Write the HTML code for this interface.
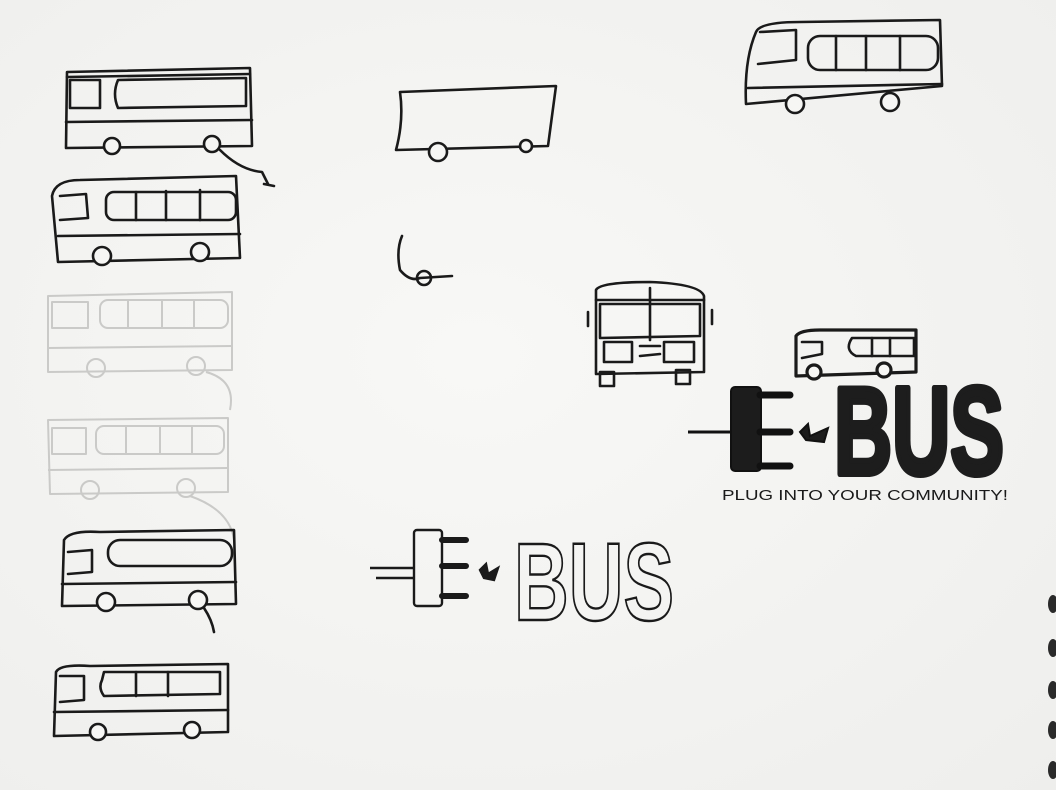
<!DOCTYPE html>
<html><head><style>
html,body{margin:0;padding:0;width:1056px;height:790px;overflow:hidden;background:#f5f5f3}
svg{display:block}
</style></head><body>
<svg width="1056" height="790" viewBox="0 0 1056 790" xmlns="http://www.w3.org/2000/svg">
<defs>
<radialGradient id="bg" cx="0.45" cy="0.45" r="0.8">
<stop offset="0" stop-color="#f8f8f6"/><stop offset="1" stop-color="#eeeeec"/>
</radialGradient>
</defs>
<rect width="1056" height="790" fill="url(#bg)"/>
<g fill="none" stroke="#1a1a1a" stroke-width="2.6" stroke-linejoin="round" stroke-linecap="round">
<path d="M67 72 L250 68 L252 146 L66 148 Z"/>
<path d="M67 77 L250 74"/>
<rect x="70" y="80" width="30" height="28"/>
<path d="M118 80 L246 78 L246 106 L118 108 Q112 94 118 80Z"/>
<path d="M66 122 L252 120"/>
<circle cx="112" cy="146" r="8" fill="#f6f6f4"/><circle cx="212" cy="144" r="8" fill="#f6f6f4"/>
<path d="M220 150 Q240 170 262 172 L268 184"/><path d="M264 184 L274 186"/>
<path d="M52 196 Q55 180 80 180 L236 176 L240 258 L58 262 Z"/>
<path d="M60 196 L86 194 L88 218 L60 220"/>
<rect x="106" y="192" width="130" height="28" rx="8"/>
<path d="M136 192 V220 M166 191 V220 M200 190 V220"/>
<path d="M58 236 L240 234"/>
<circle cx="102" cy="256" r="9" fill="#f6f6f4"/><circle cx="200" cy="252" r="9" fill="#f6f6f4"/>
</g>
<g fill="none" stroke="#cacac8" stroke-width="2" stroke-linejoin="round">
<path d="M48 296 L232 292 L232 370 L48 372 Z"/>
<rect x="52" y="302" width="36" height="26"/><rect x="100" y="300" width="128" height="28" rx="8"/>
<path d="M128 300 V328 M162 300 V328 M194 300 V328 M48 348 L232 346"/>
<circle cx="96" cy="368" r="9"/><circle cx="196" cy="366" r="9"/>
<path d="M206 372 Q236 380 230 410"/>
<path d="M48 420 L228 418 L228 492 L50 494 Z"/>
<rect x="52" y="428" width="34" height="26"/><rect x="96" y="426" width="128" height="28" rx="8"/>
<path d="M126 426 V454 M160 426 V454 M192 426 V454 M48 470 L228 468"/>
<circle cx="90" cy="490" r="9"/><circle cx="186" cy="488" r="9"/>
<path d="M190 496 Q230 510 234 540"/>
</g>
<g fill="none" stroke="#1a1a1a" stroke-width="2.6" stroke-linejoin="round" stroke-linecap="round">
<path d="M64 540 Q70 530 100 532 L234 530 L236 604 L62 606 Z"/>
<path d="M68 552 L92 550 L92 572 L68 574"/>
<rect x="108" y="540" width="124" height="26" rx="12"/>
<path d="M62 584 L236 582"/>
<circle cx="106" cy="602" r="9" fill="#f6f6f4"/><circle cx="198" cy="600" r="9" fill="#f6f6f4"/>
<path d="M204 608 Q212 620 214 632"/>
<path d="M56 672 Q60 664 90 666 L228 664 L228 732 L54 736 Z"/>
<path d="M60 676 L84 676 L84 700 L60 702"/>
<path d="M102 680 Q98 688 104 696 L220 694 L220 672 L104 672 Z"/>
<path d="M136 672 V696 M168 672 V696"/>
<path d="M54 712 L228 710"/>
<circle cx="98" cy="732" r="8" fill="#f6f6f4"/><circle cx="192" cy="730" r="8" fill="#f6f6f4"/>
<path d="M400 92 L556 86 L548 146 L396 150 Q404 120 400 92Z"/>
<circle cx="438" cy="152" r="9" fill="#f6f6f4"/><circle cx="526" cy="146" r="6" fill="#f6f6f4"/>
<path d="M402 236 Q396 250 400 270 Q410 282 420 278 L452 276"/>
<circle cx="424" cy="278" r="7"/>
<path d="M756 32 Q760 22 800 22 L940 20 L942 86 L746 104 Q744 60 756 32Z"/>
<path d="M760 32 L796 30 L796 60 L758 64"/>
<rect x="808" y="36" width="130" height="34" rx="12"/>
<path d="M836 36 V70 M866 36 V70 M900 36 V70"/>
<path d="M748 88 L942 84"/>
<circle cx="795" cy="104" r="9" fill="#f6f6f4"/><circle cx="890" cy="102" r="9" fill="#f6f6f4"/>
<path d="M596 290 Q600 282 650 282 Q700 284 704 296 L704 372 L596 374 Z"/>
<path d="M596 300 L704 300"/>
<path d="M600 304 L700 304 L700 336 L600 338 Z"/>
<path d="M650 288 L650 340"/>
<rect x="604" y="342" width="28" height="20"/><rect x="664" y="342" width="30" height="20"/>
<path d="M640 346 L660 346 M640 356 L660 354"/>
<rect x="600" y="372" width="14" height="14"/><rect x="676" y="370" width="14" height="14"/>
<path d="M588 312 V326 M712 310 V324"/>
<path d="M796 336 Q800 330 820 330 L916 330 L916 372 L796 376 Z" stroke-width="3.2"/>
<path d="M802 342 L822 342 L822 354 L802 358"/>
<path d="M852 338 Q844 350 856 356 L914 356 L914 338 Z"/>
<path d="M872 338 V356 M890 338 V356"/>
<circle cx="814" cy="372" r="7" fill="#f6f6f4" stroke-width="3.2"/><circle cx="884" cy="370" r="7" fill="#f6f6f4" stroke-width="3.2"/>
</g>
<g fill="#1c1c1c" stroke="#111" stroke-width="2">
<line x1="688" y1="432" x2="732" y2="432" stroke-width="3"/>
<rect x="731" y="387" width="30" height="84" rx="4"/>
<path d="M760 395 H790 M760 432 H790 M760 466 H790" stroke-width="7" stroke-linecap="round" fill="none"/>
<path d="M800 432 L808 424 L810 436 L828 428 L824 442 L806 440Z"/>
</g>
<text x="834" y="474" font-family="Liberation Sans, sans-serif" font-weight="bold" font-size="124" textLength="170" lengthAdjust="spacingAndGlyphs" fill="#1d1d1d" stroke="#1d1d1d" stroke-width="6" stroke-linejoin="round">BUS</text>
<text x="722" y="500" font-family="Liberation Sans, sans-serif" font-size="15" textLength="286" lengthAdjust="spacingAndGlyphs" fill="#1a1a1a">PLUG  INTO YOUR COMMUNITY!</text>
<g fill="none" stroke="#1a1a1a" stroke-width="2.4">
<line x1="370" y1="568" x2="414" y2="568"/><line x1="376" y1="578" x2="414" y2="578"/>
<rect x="414" y="530" width="28" height="76" rx="3"/>
<path d="M442 540 H466 M442 566 H466 M442 596 H466" stroke-width="6" stroke-linecap="round"/>
<path d="M480 570 L486 564 L488 574 L498 568 L494 580 L484 578Z" fill="#1a1a1a"/>
</g>
<text x="514" y="620" font-family="Liberation Sans, sans-serif" font-weight="bold" font-size="110" textLength="160" lengthAdjust="spacingAndGlyphs" fill="none" stroke="#1a1a1a" stroke-width="2.4">BUS</text>
<g fill="#2a2a2a">
<ellipse cx="1053" cy="604" rx="5" ry="9"/><ellipse cx="1053" cy="648" rx="5" ry="9"/><ellipse cx="1053" cy="690" rx="5" ry="9"/><ellipse cx="1053" cy="730" rx="5" ry="9"/><ellipse cx="1053" cy="770" rx="5" ry="9"/>
</g>
</svg>
</body></html>
